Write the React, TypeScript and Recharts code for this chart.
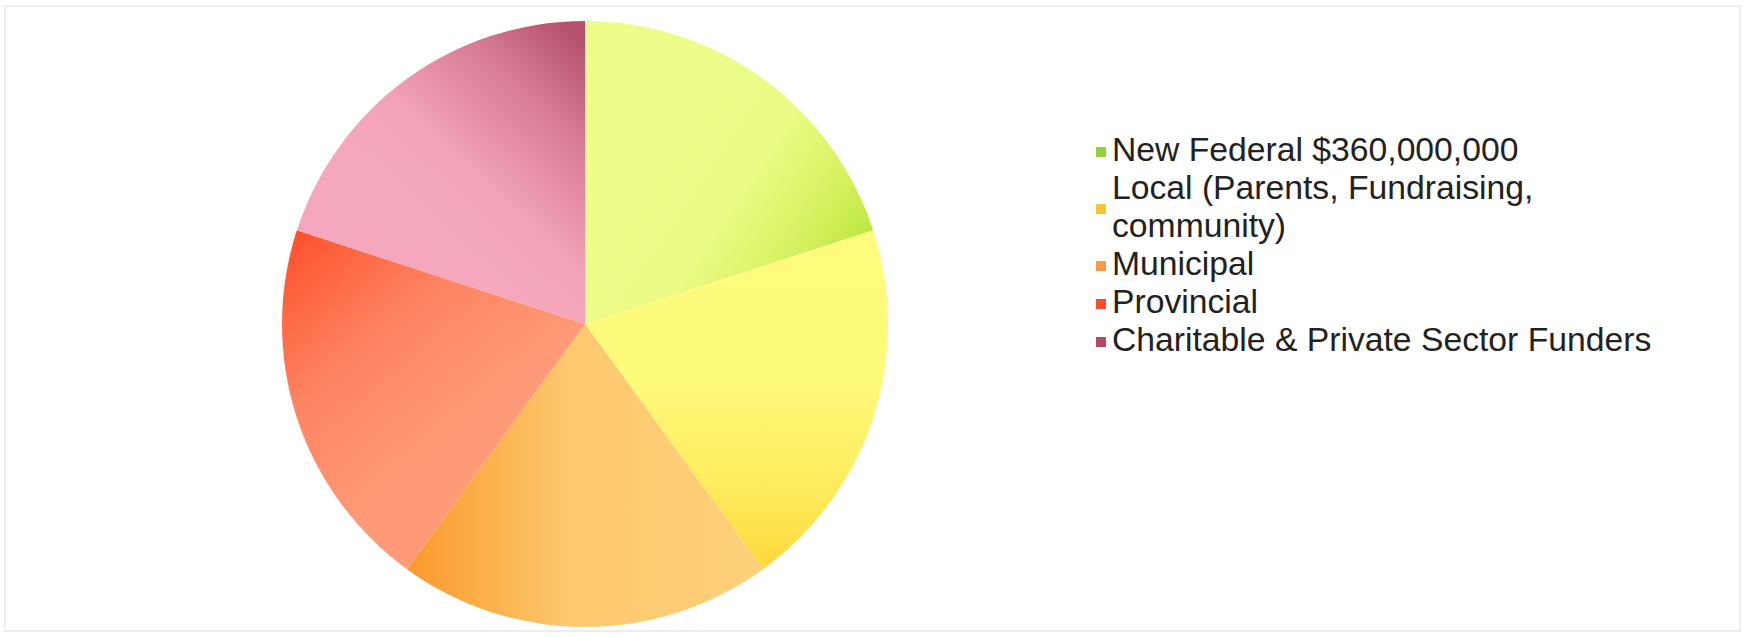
import React from 'react';
import { PieChart, Pie, Cell, Legend } from 'recharts';

/* ── Data ────────────────────────────────────────────────────────────────── */
const SOURCES = [
    'New Federal $360,000,000',
    'Local (Parents, Fundraising, community)',
    'Municipal',
    'Provincial',
    'Charitable & Private Sector Funders',
];
const SHARES = [20, 20, 20, 20, 20];

const MARKER_COLORS = ['#93d23c', '#f7c434', '#f89a40', '#f64d2e', '#b24a68'];

const data = SOURCES.map((name, i) => ({ name, value: SHARES[i] }));

/* ── Slice gradients (Excel-style shading) ──────────────────────────────── */
type Grad = { x1: number; y1: number; x2: number; y2: number; stops: [number, string][] };
const GRADS: Grad[] = [
    { x1: 0.25, y1: 0.25, x2: 1, y2: 0.78, stops: [[0, '#eefc8a'], [0.45, '#ecfb85'], [0.78, '#d2f05a'], [1, '#b4e437']] },
    { x1: 0.5, y1: 0, x2: 0.5, y2: 1, stops: [[0, '#fefc7e'], [0.45, '#fefa7a'], [0.78, '#feea5a'], [1, '#fdd93c']] },
    { x1: 0, y1: 0.5, x2: 1, y2: 0.5, stops: [[0, '#fb982c'], [0.25, '#fcb34e'], [0.45, '#fdc86e'], [1, '#fdd07a']] },
    { x1: 0.05, y1: 0, x2: 0.55, y2: 0.65, stops: [[0, '#fe522e'], [0.5, '#fe8462'], [1, '#ff9a78']] },
    { x1: 0.45, y1: 0.7, x2: 1, y2: 0.08, stops: [[0, '#f5a8bd'], [0.3, '#f3a3b8'], [0.7, '#d87c95'], [1, '#b6526d']] },
];

const FONT = '"Liberation Sans", Arial, sans-serif';

/* ── Legend ──────────────────────────────────────────────────────────────── */
const FundLegend = () => (
    <div style={{ display: 'flex', flexDirection: 'column', fontFamily: FONT, fontSize: 33.7, lineHeight: '38px', color: '#222' }}>
        {SOURCES.map((s, i) => (
            <div key={s} style={{ display: 'flex', alignItems: 'center' }}>
                <span style={{
                    width: 10, height: 10, background: MARKER_COLORS[i],
                    flex: '0 0 auto', marginRight: 6, marginTop: 5,
                }} />
                <span style={{ width: 560 }}>{s}</span>
            </div>
        ))}
    </div>
);

export default function App() {
    return (
        <div style={{ position: 'fixed', left: 0, top: 0, width: 1747, height: 637, background: '#fff' }}>
            <div style={{
                position: 'absolute', left: 4, top: 5, width: 1737, height: 627,
                border: '2px solid #ededed', boxSizing: 'border-box',
            }} />
            <PieChart width={1747} height={637} margin={{ top: 0, right: 0, bottom: 0, left: 0 }}>
                <defs>
                    {GRADS.map((g, i) => (
                        <linearGradient key={i} id={`slice${i}`} x1={g.x1} y1={g.y1} x2={g.x2} y2={g.y2}>
                            {g.stops.map(([o, c]) => <stop key={o} offset={o} stopColor={c} />)}
                        </linearGradient>
                    ))}
                </defs>
                <Pie
                    data={data}
                    dataKey="value"
                    nameKey="name"
                    cx={585}
                    cy={324}
                    outerRadius={303}
                    startAngle={90}
                    endAngle={-270}
                    stroke="none"
                    isAnimationActive={false}
                >
                    {data.map((d, i) => <Cell key={d.name} fill={`url(#slice${i})`} />)}
                </Pie>
                <Legend
                    layout="vertical"
                    align="right"
                    verticalAlign="top"
                    content={<FundLegend />}
                    wrapperStyle={{ left: 1096, top: 130, width: 620, right: 'auto' }}
                />
            </PieChart>
        </div>
    );
}
